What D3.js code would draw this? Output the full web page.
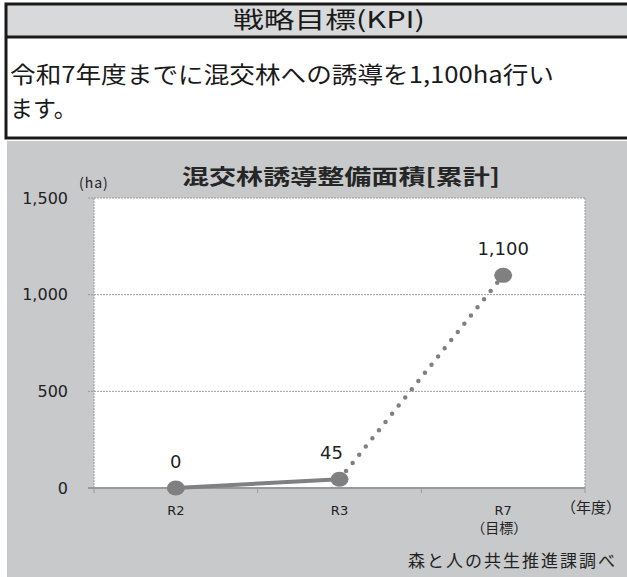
<!DOCTYPE html>
<html>
<head>
<meta charset="utf-8">
<script src="https://cdn.jsdelivr.net/npm/d3@7"></script>
<style>
  body { margin: 0; background: #fff; }
  svg { display: block; }
</style>
</head>
<body>
<div id="chart"></div>
<script>
"use strict";

// data
var years = ["R2", "R3", "R7"];
var yearNotes = ["", "", "（目標）"];
var area = [0, 45, 1100];
var areaLabels = ["0", "45", "1,100"];
var yTicks = [0, 500, 1000, 1500];

var W = 627, H = 577;
var jp = "'Noto Sans CJK JP', 'Noto Sans', sans-serif";

var svg = d3.select("#chart")
  .append("svg")
    .attr("width", W)
    .attr("height", H);

// ---- KPI box on top ----
svg.append("rect")
  .attr("x", 6).attr("y", 4).attr("width", 640).attr("height", 33)
  .style("fill", "#d8d9da");
svg.append("rect")
  .attr("x", 6).attr("y", 4).attr("width", 640).attr("height", 134)
  .style("fill", "none")
  .style("stroke", "#1a1a1a")
  .style("stroke-width", 3);
svg.append("line")
  .attr("x1", 6).attr("x2", 640).attr("y1", 37).attr("y2", 37)
  .style("stroke", "#1a1a1a").style("stroke-width", 3);

svg.append("text")
  .attr("x", 329).attr("y", 28)
  .attr("text-anchor", "middle")
  .attr("textLength", 192).attr("lengthAdjust", "spacingAndGlyphs")
  .style("font-family", jp)
  .style("font-size", "23px")
  .style("fill", "#1a1a1a")
  .text("戦略目標(KPI)");

svg.append("text")
  .attr("x", 10).attr("y", 83)
  .attr("textLength", 544).attr("lengthAdjust", "spacingAndGlyphs")
  .style("font-family", jp)
  .style("font-size", "23px")
  .style("fill", "#1a1a1a")
  .text("令和7年度までに混交林への誘導を1,100ha行い");

svg.append("text")
  .attr("x", 10).attr("y", 117)
  .style("font-family", jp)
  .style("font-size", "23px")
  .style("fill", "#1a1a1a")
  .text("ます。");

// ---- chart panel ----
svg.append("rect")
  .attr("x", 7).attr("y", 141).attr("width", 630).attr("height", 440)
  .style("fill", "#c8c9cb");

var plot = {left: 94, right: 585, top: 198, bottom: 488};

var x = d3.scaleBand()
  .domain(years)
  .range([plot.left, plot.right]);

var y = d3.scaleLinear()
  .domain([0, 1500])
  .range([plot.bottom, plot.top]);

// white plot area
svg.append("rect")
  .attr("x", plot.left).attr("y", plot.top)
  .attr("width", plot.right - plot.left)
  .attr("height", plot.bottom - plot.top)
  .style("fill", "#fff");

// dotted gridlines
svg.append("g")
  .selectAll("line")
  .data(yTicks.filter(function(d) { return d > 0; }))
  .enter()
  .append("line")
    .attr("x1", plot.left - 6).attr("x2", plot.right)
    .attr("y1", function(d) { return y(d); })
    .attr("y2", function(d) { return y(d); })
    .style("stroke", "#9a9a9a")
    .style("stroke-width", 1)
    .style("stroke-dasharray", "2 1");

// dotted plot border left / right
[plot.left, plot.right].forEach(function(px) {
  svg.append("line")
    .attr("x1", px).attr("x2", px)
    .attr("y1", plot.top).attr("y2", plot.bottom)
    .style("stroke", "#9a9a9a")
    .style("stroke-dasharray", "2 1");
});

// y axis labels
var yAxis = svg.append("g")
  .attr("transform", "translate(" + plot.left + ",0)")
  .call(d3.axisLeft(y).tickValues(yTicks).tickSize(0).tickPadding(26)
    .tickFormat(d3.format(",")));
yAxis.select(".domain").remove();
yAxis.selectAll("text")
  .style("font-family", "'DejaVu Sans', sans-serif")
  .style("font-size", "16px")
  .style("fill", "#222");

// x axis: baseline with ticks at the band edges
svg.append("line")
  .attr("x1", plot.left - 6).attr("x2", plot.right)
  .attr("y1", plot.bottom).attr("y2", plot.bottom)
  .style("stroke", "#999")
  .style("stroke-width", 2);
var edges = years.map(function(d) { return x(d); }).concat([plot.right]);
svg.append("g")
  .selectAll("line")
  .data(edges)
  .enter()
  .append("line")
    .attr("x1", function(d) { return d; })
    .attr("x2", function(d) { return d; })
    .attr("y1", plot.bottom).attr("y2", plot.bottom + 5)
    .style("stroke", "#999");

var cx = function(i) { return x(years[i]) + x.bandwidth() / 2; };

svg.append("g")
  .selectAll("text")
  .data(years)
  .enter()
  .append("text")
    .attr("x", function(d, i) { return cx(i); })
    .attr("y", 515)
    .attr("text-anchor", "middle")
    .style("font-family", "'DejaVu Sans', sans-serif")
    .style("font-size", "13px")
    .style("fill", "#222")
    .text(function(d) { return d; });

svg.append("g")
  .selectAll("text")
  .data(yearNotes)
  .enter()
  .append("text")
    .attr("x", function(d, i) { return cx(i) - 4; })
    .attr("y", 533)
    .attr("text-anchor", "middle")
    .style("font-family", jp)
    .style("font-size", "14px")
    .style("fill", "#222")
    .text(function(d) { return d; });

// lines: solid for actual, dotted toward the target
var pts = area.map(function(v, i) { return [cx(i), y(v)]; });
var line = d3.line();

svg.append("path")
  .attr("d", line(pts.slice(0, 2)))
  .style("fill", "none")
  .style("stroke", "#808080")
  .style("stroke-width", 4);

svg.append("path")
  .attr("d", line(pts.slice(1, 3)))
  .style("fill", "none")
  .style("stroke", "#808080")
  .style("stroke-width", 4.5)
  .style("stroke-linecap", "round")
  .style("stroke-dasharray", "0 10.5");

// markers
svg.append("g")
  .selectAll("ellipse")
  .data(area)
  .enter()
  .append("ellipse")
    .attr("cx", function(d, i) { return cx(i); })
    .attr("cy", function(d) { return y(d); })
    .attr("rx", 9).attr("ry", 7.5)
    .style("fill", "#808080");

// data labels
var labelDx = [0, -8, 0];
svg.append("g")
  .selectAll("text")
  .data(area)
  .enter()
  .append("text")
    .attr("x", function(d, i) { return cx(i) + labelDx[i]; })
    .attr("y", function(d) { return y(d) - 20; })
    .attr("text-anchor", "middle")
    .style("font-family", "'DejaVu Sans', sans-serif")
    .style("font-size", "18px")
    .style("fill", "#222")
    .text(function(d, i) { return areaLabels[i]; });

// titles and notes
svg.append("text")
  .attr("x", 341).attr("y", 184)
  .attr("text-anchor", "middle")
  .attr("textLength", 318).attr("lengthAdjust", "spacingAndGlyphs")
  .style("font-family", jp)
  .style("font-weight", "bold")
  .style("font-size", "21px")
  .style("fill", "#262626")
  .text("混交林誘導整備面積[累計]");

svg.append("text")
  .attr("x", 79).attr("y", 188)
  .style("font-family", jp)
  .style("font-size", "14px")
  .style("letter-spacing", "1px")
  .style("fill", "#222")
  .text("(ha)");

svg.append("text")
  .attr("x", 621).attr("y", 513)
  .attr("text-anchor", "end")
  .style("font-family", jp)
  .style("font-size", "15px")
  .style("fill", "#222")
  .text("（年度）");

svg.append("text")
  .attr("x", 615).attr("y", 567)
  .attr("text-anchor", "end")
  .attr("textLength", 207).attr("lengthAdjust", "spacing")
  .style("font-family", jp)
  .style("font-size", "17px")
  .style("fill", "#222")
  .text("森と人の共生推進課調べ");
</script>
</body>
</html>
